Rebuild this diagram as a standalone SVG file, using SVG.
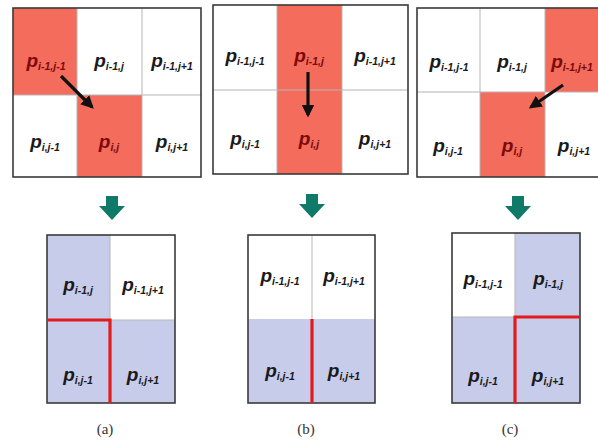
<svg xmlns="http://www.w3.org/2000/svg" width="598" height="442" viewBox="0 0 598 442">
<defs>
<style>
.bg{fill:#ffffff}
.red{fill:#f36c5c}
.blue{fill:#c7cceb}
.border{fill:none;stroke:#3a3a3a;stroke-width:1.6}
.inner{stroke:#b5b5b5;stroke-width:1;fill:none}
.sep{stroke:#e31b1b;stroke-width:3.2;fill:none}
.t{font-family:"Liberation Sans",Arial,sans-serif;font-weight:bold;font-style:italic;font-size:19px;fill:#1a1a1a;text-anchor:middle}
.t.r{fill:#7d0a0a}
.s{font-size:10.5px}
.arr{stroke:#111;stroke-width:3.2;fill:none;marker-end:url(#ah)}
.g{fill:#0f7a68}
.lab{font-family:"Liberation Serif","Times New Roman",serif;font-size:15px;fill:#333;text-anchor:middle}
</style>
<marker id="ah" viewBox="0 0 10 10" refX="8" refY="5" markerWidth="4" markerHeight="4" orient="auto" markerUnits="strokeWidth">
<path d="M0,0 L10,5 L0,10 z" fill="#111"/>
</marker>
</defs>
<rect class="bg" x="0" y="0" width="598" height="442"/>

<!-- Top panel (a) -->
<g id="top-a">
<rect class="red" x="13" y="8" width="64" height="87"/>
<rect class="red" x="77" y="95" width="65" height="82"/>
<path class="inner" d="M77,8 V177 M142,8 V177 M13,95 H201"/>
<rect class="border" x="13" y="8" width="188" height="169"/>
<text class="t r" x="46" y="67">p<tspan class="s" dy="3">i-1,j-1</tspan></text>
<text class="t" x="109" y="67">p<tspan class="s" dy="3">i-1,j</tspan></text>
<text class="t" x="172" y="67">p<tspan class="s" dy="3">i-1,j+1</tspan></text>
<text class="t" x="45" y="148">p<tspan class="s" dy="3">i,j-1</tspan></text>
<text class="t r" x="109" y="148">p<tspan class="s" dy="3">i,j</tspan></text>
<text class="t" x="172" y="148">p<tspan class="s" dy="3">i,j+1</tspan></text>
</g>

<!-- Top panel (b) -->
<g id="top-b">
<rect class="red" x="277" y="5" width="65" height="169"/>
<path class="inner" d="M277,5 V174 M342,5 V174 M213,90 H408"/>
<rect class="border" x="213" y="5" width="195" height="169"/>
<text class="t" x="245" y="62">p<tspan class="s" dy="3">i-1,j-1</tspan></text>
<text class="t r" x="309" y="62">p<tspan class="s" dy="3">i-1,j</tspan></text>
<text class="t" x="375" y="62">p<tspan class="s" dy="3">i-1,j+1</tspan></text>
<text class="t" x="245" y="145">p<tspan class="s" dy="3">i,j-1</tspan></text>
<text class="t r" x="309" y="145">p<tspan class="s" dy="3">i,j</tspan></text>
<text class="t" x="375" y="145">p<tspan class="s" dy="3">i,j+1</tspan></text>
</g>

<!-- Top panel (c) -->
<g id="top-c">
<rect class="red" x="545" y="8" width="65" height="84"/>
<rect class="red" x="480" y="92" width="65" height="85"/>
<path class="inner" d="M480,8 V177 M545,8 V177 M417,92 H610"/>
<rect class="border" x="417" y="8" width="193" height="169"/>
<text class="t" x="449" y="68">p<tspan class="s" dy="3">i-1,j-1</tspan></text>
<text class="t" x="512" y="68">p<tspan class="s" dy="3">i-1,j</tspan></text>
<text class="t r" x="572" y="68">p<tspan class="s" dy="3">i-1,j+1</tspan></text>
<text class="t" x="448" y="152">p<tspan class="s" dy="3">i,j-1</tspan></text>
<text class="t r" x="512" y="152">p<tspan class="s" dy="3">i,j</tspan></text>
<text class="t" x="574" y="152">p<tspan class="s" dy="3">i,j+1</tspan></text>
</g>

<!-- Bottom panel (a) -->
<g id="bottom-a">
<rect class="blue" x="47" y="235" width="63" height="168"/>
<rect class="blue" x="110" y="320" width="65" height="83"/>
<path class="inner" d="M110,235 V320 M110,320 H175"/>
<rect class="border" x="47" y="235" width="128" height="168"/>
<text class="t" x="78" y="291">p<tspan class="s" dy="3">i-1,j</tspan></text>
<text class="t" x="143" y="291">p<tspan class="s" dy="3">i-1,j+1</tspan></text>
<text class="t" x="78" y="381">p<tspan class="s" dy="3">i,j-1</tspan></text>
<text class="t" x="143" y="381">p<tspan class="s" dy="3">i,j+1</tspan></text>
<text class="lab" x="105" y="434">(a)</text>
</g>

<!-- Bottom panel (b) -->
<g id="bottom-b">
<rect class="blue" x="248" y="319" width="127" height="84"/>
<path class="inner" d="M312,235 V319"/>
<rect class="border" x="248" y="235" width="127" height="168"/>
<text class="t" x="280" y="282">p<tspan class="s" dy="3">i-1,j-1</tspan></text>
<text class="t" x="344" y="282">p<tspan class="s" dy="3">i-1,j+1</tspan></text>
<text class="t" x="280" y="377">p<tspan class="s" dy="3">i,j-1</tspan></text>
<text class="t" x="344" y="377">p<tspan class="s" dy="3">i,j+1</tspan></text>
<text class="lab" x="306" y="434">(b)</text>
</g>

<!-- Bottom panel (c) -->
<g id="bottom-c">
<rect class="blue" x="515" y="233" width="65" height="170"/>
<rect class="blue" x="452" y="317" width="63" height="86"/>
<path class="inner" d="M515,233 V317 M452,317 H515"/>
<rect class="border" x="452" y="233" width="128" height="170"/>
<text class="t" x="483" y="285">p<tspan class="s" dy="3">i-1,j-1</tspan></text>
<text class="t" x="548" y="285">p<tspan class="s" dy="3">i-1,j</tspan></text>
<text class="t" x="483" y="382">p<tspan class="s" dy="3">i,j-1</tspan></text>
<text class="t" x="548" y="382">p<tspan class="s" dy="3">i,j+1</tspan></text>
<text class="lab" x="510" y="434">(c)</text>
</g>

<!-- Connectors -->
<g id="connectors">
<line class="arr" x1="61" y1="76" x2="92" y2="107"/>
<line class="arr" x1="308" y1="72" x2="308" y2="115"/>
<line class="arr" x1="563" y1="85" x2="531" y2="107"/>
<path class="g" d="M106,196 h12 v10 h7 l-13,14 l-13,-14 h7 z"/>
<path class="g" d="M306,194 h12 v10 h7 l-13,14 l-13,-14 h7 z"/>
<path class="g" d="M512,196 h12 v10 h7 l-13,14 l-13,-14 h7 z"/>
<path class="sep" d="M47,320 H110 V403"/>
<path class="sep" d="M312,319 V403"/>
<path class="sep" d="M580,317 H515 V403"/>
</g>
</svg>
